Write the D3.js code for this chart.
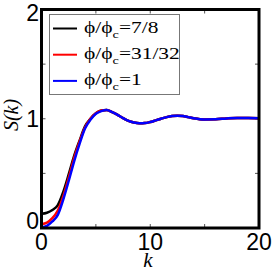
<!DOCTYPE html>
<html>
<head>
<meta charset="utf-8">
<script src="https://cdn.jsdelivr.net/npm/d3@7"></script>
<style>
  body { margin: 0; background: #fff; }
  .tick-label { font-family: "Liberation Sans", Arial, sans-serif; font-size: 23px; fill: #000; }
  .legend-text { font-family: "Liberation Serif", "Times New Roman", serif; font-size: 16.5px; fill: #000; }
</style>
</head>
<body>
<div id="chart"></div>
<script>
// Chart size
const width = 273;
const height = 271;

// Data
const kValues = [0, 0.5, 1, 1.5, 2, 2.5, 3, 3.5, 4, 4.5, 5, 5.5, 6, 6.5, 7, 7.5, 8, 8.5, 9, 9.5, 10, 10.5, 11, 11.5, 12, 12.5, 13, 13.5, 14, 15, 16, 17, 18, 19, 20];
const sBlack = [0.13, 0.14, 0.165, 0.21, 0.33, 0.49, 0.66, 0.80, 0.93, 1.00, 1.05, 1.075, 1.08, 1.06, 1.035, 1.005, 0.98, 0.965, 0.958, 0.96, 0.97, 0.985, 1.0, 1.015, 1.025, 1.028, 1.025, 1.015, 1.005, 0.994, 0.995, 1.003, 1.008, 1.007, 1.005];
const sRed = [0.035, 0.05, 0.09, 0.16, 0.29, 0.46, 0.64, 0.79, 0.92, 1.00, 1.05, 1.075, 1.08, 1.06, 1.035, 1.005, 0.98, 0.965, 0.958, 0.96, 0.97, 0.985, 1.0, 1.015, 1.025, 1.028, 1.025, 1.015, 1.005, 0.994, 0.995, 1.003, 1.008, 1.007, 1.005];
const sBlue = [0.005, 0.02, 0.06, 0.12, 0.26, 0.43, 0.61, 0.77, 0.91, 0.99, 1.045, 1.07, 1.08, 1.06, 1.035, 1.005, 0.98, 0.965, 0.958, 0.96, 0.97, 0.985, 1.0, 1.015, 1.025, 1.028, 1.025, 1.015, 1.005, 0.994, 0.995, 1.003, 1.008, 1.007, 1.005];
const seriesNames = ["7/8", "31/32", "1"];
const seriesColors = ["#000000", "#ff0000", "#0000ff"];
const xTicks = [0, 10, 20];
const xMinor = [5, 15];
const yTicks = [0, 1, 2];
const yMinor = [0.5, 1.5];

const series = [sBlack, sRed, sBlue];

const x = d3.scaleLinear().domain([0, 20]).range([41.5, 259]);
const y = d3.scaleLinear().domain([0, 2]).range([228, 9.5]);

const svg = d3.select("#chart")
    .append("svg")
    .attr("width", width)
    .attr("height", height);

// inward ticks, top/bottom and left/right
const tickLen = 4;
const tickColor = "#555";
[...xTicks.slice(1, -1), ...xMinor].forEach(t => {
    svg.append("line").attr("x1", x(t)).attr("x2", x(t))
        .attr("y1", y(0)).attr("y2", y(0) - tickLen)
        .attr("stroke", tickColor).attr("stroke-width", 1);
    svg.append("line").attr("x1", x(t)).attr("x2", x(t))
        .attr("y1", y(2)).attr("y2", y(2) + tickLen)
        .attr("stroke", tickColor).attr("stroke-width", 1);
});
[...yTicks.slice(1, -1), ...yMinor].forEach(t => {
    svg.append("line").attr("x1", x(0)).attr("x2", x(0) + tickLen)
        .attr("y1", y(t)).attr("y2", y(t))
        .attr("stroke", tickColor).attr("stroke-width", 1);
    svg.append("line").attr("x1", x(20)).attr("x2", x(20) - tickLen)
        .attr("y1", y(t)).attr("y2", y(t))
        .attr("stroke", tickColor).attr("stroke-width", 1);
});

// curves
const line = d3.line()
    .x((d, i) => x(kValues[i]))
    .y(d => y(d))
    .curve(d3.curveMonotoneX);

series.forEach((s, i) => {
    svg.append("path")
        .datum(s)
        .attr("d", line)
        .attr("fill", "none")
        .attr("stroke", seriesColors[i])
        .attr("stroke-width", 2.5);
});

// frame
svg.append("rect")
    .attr("x", x(0))
    .attr("y", y(2))
    .attr("width", x(20) - x(0))
    .attr("height", y(0) - y(2))
    .attr("fill", "none")
    .attr("stroke", "#000")
    .attr("stroke-width", 3);

// tick labels
svg.selectAll(".xlab")
    .data(xTicks)
    .join("text")
    .attr("class", "tick-label")
    .attr("x", d => x(d))
    .attr("y", 250)
    .attr("text-anchor", "middle")
    .text(d => d);

const yShift = { 0: -7, 1: 0, 2: 3 };
svg.selectAll(".ylab")
    .data(yTicks)
    .join("text")
    .attr("class", "tick-label")
    .attr("x", 39)
    .attr("y", d => y(d) + yShift[d])
    .attr("dy", "0.36em")
    .attr("text-anchor", "end")
    .text(d => d);

// axis titles
svg.append("text")
    .attr("x", 148)
    .attr("y", 267)
    .attr("text-anchor", "middle")
    .style("font-family", "'Liberation Serif', serif")
    .style("font-style", "italic")
    .style("font-size", "21px")
    .text("k");

svg.append("text")
    .attr("transform", "translate(18,115) rotate(-90)")
    .attr("text-anchor", "middle")
    .style("font-family", "'Liberation Serif', serif")
    .style("font-style", "italic")
    .style("font-size", "20px")
    .text("S(k)");

// legend
const legend = svg.append("g");
legend.append("rect")
    .attr("x", 49.5)
    .attr("y", 14.5)
    .attr("width", 130)
    .attr("height", 80)
    .attr("fill", "#fff")
    .attr("stroke", "#777")
    .attr("stroke-width", 1);

seriesNames.forEach((name, i) => {
    const ly = 28.5 + i * 26.2;
    legend.append("line")
        .attr("x1", 53).attr("x2", 77)
        .attr("y1", ly).attr("y2", ly)
        .attr("stroke", seriesColors[i])
        .attr("stroke-width", 2);
    const t = legend.append("text")
        .attr("class", "legend-text")
        .attr("transform", `translate(84,${ly + 4.5}) scale(1.3,1)`);
    t.append("tspan").text("\u03d5/\u03d5");
    t.append("tspan").attr("dy", 5).style("font-size", "11px").text("c");
    t.append("tspan").attr("dy", -5).text("=" + name);
});
</script>
</body>
</html>
